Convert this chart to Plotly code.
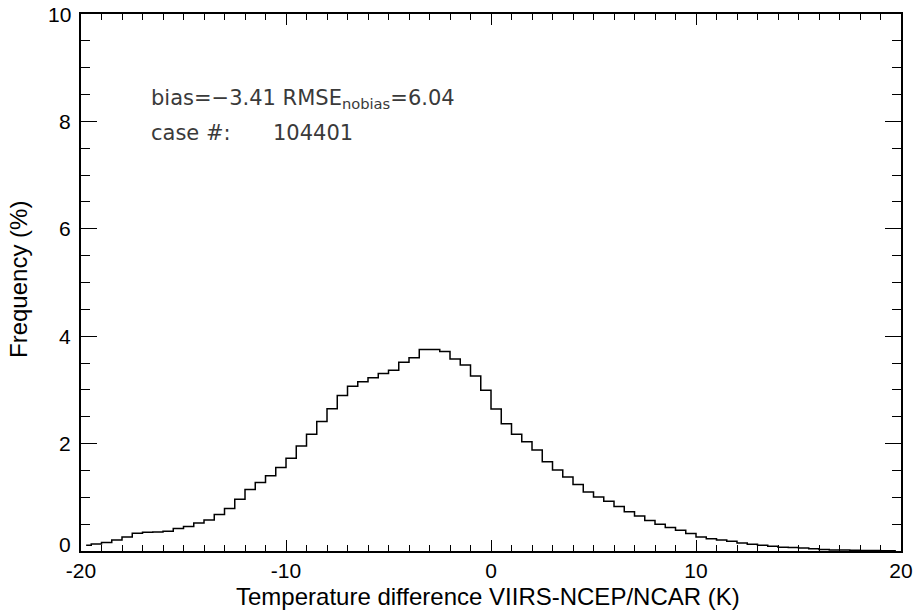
import plotly.graph_objects as go

# Bin centres (K) and frequency (%)
bin_centers = [-19.75 + 0.5 * i for i in range(80)]
frequency = [
    0.106, 0.13, 0.156, 0.205, 0.26, 0.33, 0.35, 0.355, 0.367, 0.417,
    0.455, 0.52, 0.578, 0.68, 0.79, 0.963, 1.144, 1.275, 1.40, 1.554,
    1.728, 1.957, 2.175, 2.41, 2.647, 2.896, 3.07, 3.15, 3.225, 3.306,
    3.368, 3.517, 3.60, 3.754, 3.754, 3.716, 3.576, 3.465, 3.26, 2.995,
    2.645, 2.37, 2.172, 2.035, 1.88, 1.662, 1.507, 1.38, 1.238, 1.10,
    1.004, 0.926, 0.83, 0.733, 0.653, 0.566, 0.50, 0.439, 0.386, 0.324,
    0.261, 0.23, 0.205, 0.18, 0.149, 0.125, 0.106, 0.088, 0.069, 0.063,
    0.056, 0.044, 0.03, 0.02, 0.02, 0.012, 0.01, 0.008, 0.006, 0.005,
]
x_ticks = [-20, -10, 0, 10, 20]
y_ticks = [0, 2, 4, 6, 8, 10]
x_title = "Temperature difference VIIRS-NCEP/NCAR (K)"
y_title = "Frequency (%)"
bias_text = "bias=\u22123.41 RMSE<sub>nobias</sub>=6.04"
case_label = "case #:"
case_count = "104401"

FONT = "Liberation Sans, Arial, Helvetica, sans-serif"
ANN_FONT = "DejaVu Sans, sans-serif"

L, R, T, B = 81, 16, 14, 60
W, H = 917, 611
PW, PH = W - L - R, H - T - B

fig = go.Figure()
fig.add_trace(go.Scatter(
    x=bin_centers, y=frequency, mode="lines",
    line=dict(shape="hvh", color="black", width=1.5),
    showlegend=False, hoverinfo="skip",
))

fig.update_layout(
    width=W, height=H,
    margin=dict(l=L, r=R, t=T, b=B, autoexpand=False),
    paper_bgcolor="white", plot_bgcolor="white",
    font=dict(family=FONT, color="black", size=21),
    xaxis=dict(
        range=[-20, 20], tickvals=x_ticks, ticktext=[str(v) for v in x_ticks],
        ticks="inside", ticklen=11, tickwidth=1, tickcolor="black",
        minor=dict(dtick=1, ticks="inside", ticklen=6, tickwidth=1, tickcolor="black"),
        showline=True, linecolor="black", linewidth=1.5, mirror="ticks",
        showgrid=False, zeroline=False, ticklabelstandoff=0, automargin=False,
    ),
    yaxis=dict(
        range=[0, 10], tickvals=y_ticks,
        ticks="inside", ticklen=16, tickwidth=1, tickcolor="black",
        minor=dict(dtick=0.5, ticks="inside", ticklen=9, tickwidth=1, tickcolor="black"),
        showline=True, linecolor="black", linewidth=1.5, mirror="ticks",
        showgrid=False, zeroline=False, showticklabels=False, automargin=False,
    ),
)

def px_x(p):
    return (p - L) / PW

def px_y(p):
    return (H - B - p) / PH

# y tick labels (the "0" label sits slightly above the axis line, as in the reference)
for v in y_ticks:
    fig.add_annotation(xref="paper", yref="y", x=px_x(73), y=v, text=str(v),
                       showarrow=False, xanchor="right", yanchor="middle",
                       yshift=7 if v == 0 else 0,
                       font=dict(family=FONT, size=21, color="black"))

fig.add_annotation(xref="paper", yref="paper", x=px_x(488), y=px_y(596),
                   text=x_title, showarrow=False, xanchor="center", yanchor="middle",
                   font=dict(family=FONT, size=24, color="black"))
fig.add_annotation(xref="paper", yref="paper", x=px_x(18), y=px_y(280),
                   text=y_title, showarrow=False, xanchor="center", yanchor="middle",
                   textangle=-90, font=dict(family=FONT, size=24, color="black"))

ann_font = dict(family=ANN_FONT, size=21, color="#3a3a3a")
fig.add_annotation(xref="paper", yref="paper", x=px_x(149), y=px_y(99),
                   text=bias_text, showarrow=False, xanchor="left", yanchor="middle", font=ann_font)
fig.add_annotation(xref="paper", yref="paper", x=px_x(149), y=px_y(133),
                   text=case_label, showarrow=False, xanchor="left", yanchor="middle", font=ann_font)
fig.add_annotation(xref="paper", yref="paper", x=px_x(271), y=px_y(133),
                   text=case_count, showarrow=False, xanchor="left", yanchor="middle", font=ann_font)

fig.write_html(
    "out.html",
    config={"displayModeBar": False},
    post_script="document.body.style.margin='0';document.body.style.overflow='hidden';",
)
